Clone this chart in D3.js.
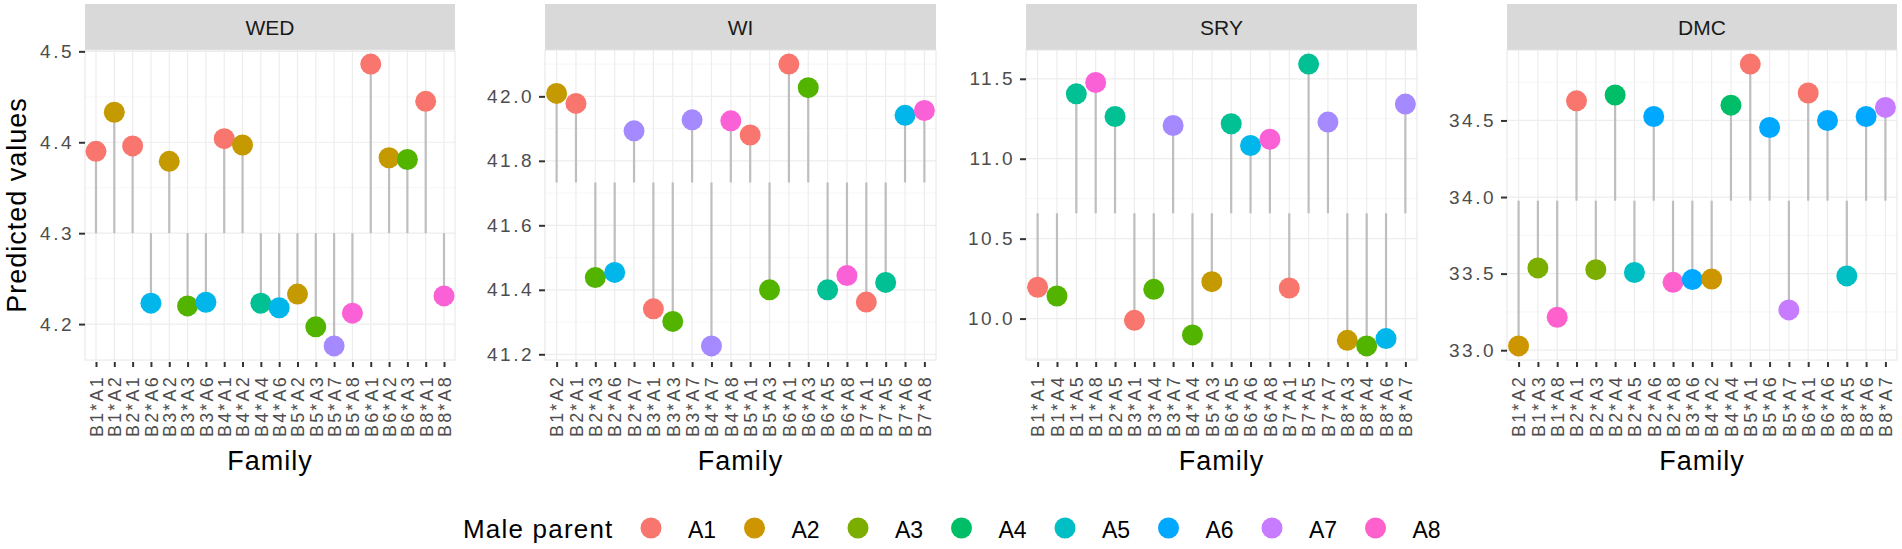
<!DOCTYPE html>
<html>
<head>
<meta charset="utf-8">
<script src="https://cdn.jsdelivr.net/npm/d3@7/dist/d3.min.js"></script>
<style>
  body { margin: 0; background: #fff; }
  svg text { font-family: "Liberation Sans", Arial, sans-serif; }
</style>
</head>
<body>
<svg id="chart" width="1902" height="549"></svg>
<script>
// panel names
var traits = ["WED", "WI", "SRY", "DMC"];

// WED
var wedFamily = ["B1*A1","B1*A2","B2*A1","B2*A6","B3*A2","B3*A3","B3*A6","B4*A1","B4*A2","B4*A4",
                 "B4*A6","B5*A2","B5*A3","B5*A7","B5*A8","B6*A1","B6*A2","B6*A3","B8*A1","B8*A8"];
var wedValue = [4.390,4.433,4.396,4.223,4.379,4.220,4.224,4.404,4.397,4.223,
                4.218,4.233,4.197,4.176,4.212,4.486,4.383,4.381,4.445,4.231];

// WI
var wiFamily = ["B1*A2","B2*A1","B2*A3","B2*A6","B2*A7","B3*A1","B3*A3","B3*A7","B4*A7","B4*A8",
                "B5*A1","B5*A3","B6*A1","B6*A3","B6*A5","B6*A8","B7*A1","B7*A5","B7*A6","B7*A8"];
var wiValue = [42.009,41.978,41.438,41.454,41.893,41.341,41.302,41.927,41.226,41.924,
               41.880,41.400,42.100,42.027,41.400,41.444,41.362,41.423,41.941,41.956];

// SRY
var sryFamily = ["B1*A1","B1*A4","B1*A5","B1*A8","B2*A5","B3*A1","B3*A4","B3*A7","B4*A4","B5*A3",
                 "B6*A5","B6*A6","B6*A8","B7*A1","B7*A5","B7*A7","B8*A3","B8*A4","B8*A6","B8*A7"];
var sryValue = [10.196,10.141,11.406,11.477,11.264,9.989,10.183,11.208,9.898,10.231,
                11.219,11.083,11.122,10.191,11.592,11.229,9.864,9.829,9.875,11.342];

// DMC
var dmcFamily = ["B1*A2","B1*A3","B1*A8","B2*A1","B2*A3","B2*A4","B2*A5","B2*A6","B2*A8","B3*A6",
                 "B4*A2","B4*A4","B5*A1","B5*A6","B5*A7","B6*A1","B6*A6","B8*A5","B8*A6","B8*A7"];
var dmcValue = [33.028,33.537,33.215,34.628,33.526,34.666,33.507,34.526,33.443,33.461,
                33.465,34.600,34.868,34.454,33.263,34.679,34.500,33.485,34.526,34.585];

// level the lollipop sticks grow from
var baseline = [4.300, 41.733, 10.659, 33.976];

// y breaks
var wedTicks = [4.2, 4.3, 4.4, 4.5];
var wiTicks = [41.2, 41.4, 41.6, 41.8, 42.0];
var sryTicks = [10.0, 10.5, 11.0, 11.5];
var dmcTicks = [33.0, 33.5, 34.0, 34.5];

var maleParents = ["A1","A2","A3","A4","A5","A6","A7","A8"];

var families = [wedFamily, wiFamily, sryFamily, dmcFamily];
var values = [wedValue, wiValue, sryValue, dmcValue];
var ticks = [wedTicks, wiTicks, sryTicks, dmcTicks];

// each panel was coloured on its own, by the levels it contains
var hue8 = ["#F8766D","#CD9600","#7CAE00","#00BE67","#00BFC4","#00A9FF","#C77CFF","#FF61CC"];
var hue7 = ["#F8766D","#C49A00","#53B400","#00C094","#00B6EB","#A58AFF","#FB61D7"];

var panelLeft = [85, 545, 1026, 1507];
var panelRight = [455, 936, 1417, 1897];
var plotTop = 50, plotBottom = 360, stripTop = 4;

var svg = d3.select("#chart");

function maleOf(f) { return f.split("*")[1]; }

for (var p = 0; p < traits.length; p++) {
    var fam = families[p], val = values[p];
    var data = fam.map(function(f, i) { return {family: f, value: val[i], male: maleOf(f)}; });

    var ext = d3.extent(val);
    var pad = (ext[1] - ext[0]) * 0.05;
    var y = d3.scaleLinear().domain([ext[0] - pad, ext[1] + pad]).range([plotBottom, plotTop]);
    var x = d3.scalePoint().domain(fam).range([panelLeft[p], panelRight[p]]).padding(0.6);

    var levels = maleParents.filter(function(m) { return data.some(function(d) { return d.male == m; }); });
    var color = d3.scaleOrdinal().domain(levels).range(levels.length == 8 ? hue8 : hue7);

    var g = svg.append("g");
    var w = panelRight[p] - panelLeft[p];

    // strip
    g.append("rect").attr("x", panelLeft[p]).attr("y", stripTop).attr("width", w).attr("height", plotTop - stripTop)
        .attr("fill", "#D9D9D9");
    g.append("text").attr("x", (panelLeft[p] + panelRight[p]) / 2).attr("y", 35)
        .attr("text-anchor", "middle").attr("font-size", 21).attr("fill", "#1A1A1A").text(traits[p]);

    // minor grid
    var tk = ticks[p];
    var step = tk[1] - tk[0];
    var minor = [];
    for (var k = -1; k < tk.length; k++) {
        var m = tk[0] + step * (k + 0.5);
        if (m > y.domain()[0] && m < y.domain()[1]) minor.push(m);
    }
    g.selectAll(".minor").data(minor).enter().append("line")
        .attr("x1", panelLeft[p]).attr("x2", panelRight[p])
        .attr("y1", function(d) { return y(d); }).attr("y2", function(d) { return y(d); })
        .attr("stroke", "#F4F4F4").attr("stroke-width", 0.8);
    g.selectAll(".majy").data(tk).enter().append("line")
        .attr("x1", panelLeft[p]).attr("x2", panelRight[p])
        .attr("y1", function(d) { return y(d); }).attr("y2", function(d) { return y(d); })
        .attr("stroke", "#EDEDED").attr("stroke-width", 1.2);
    g.selectAll(".majx").data(fam).enter().append("line")
        .attr("x1", function(d) { return x(d); }).attr("x2", function(d) { return x(d); })
        .attr("y1", plotTop).attr("y2", plotBottom)
        .attr("stroke", "#EDEDED").attr("stroke-width", 1.2);
    g.append("rect").attr("x", panelLeft[p]).attr("y", plotTop).attr("width", w).attr("height", plotBottom - plotTop)
        .attr("fill", "none").attr("stroke", "#E6E6E6").attr("stroke-width", 1);

    // sticks
    g.selectAll(".stick").data(data).enter().append("line")
        .attr("x1", function(d) { return x(d.family); }).attr("x2", function(d) { return x(d.family); })
        .attr("y1", y(baseline[p])).attr("y2", function(d) { return y(d.value); })
        .attr("stroke", "#BEBEBE").attr("stroke-width", 2.2);
    // heads
    g.selectAll(".dot").data(data).enter().append("circle")
        .attr("cx", function(d) { return x(d.family); }).attr("cy", function(d) { return y(d.value); })
        .attr("r", 10.5).attr("fill", function(d) { return color(d.male); });

    // y axis
    var yAxis = g.append("g").attr("transform", "translate(" + panelLeft[p] + ",0)")
        .call(d3.axisLeft(y).tickValues(tk).tickFormat(d3.format(".1f")).tickSize(6).tickPadding(5));
    yAxis.select(".domain").remove();
    yAxis.selectAll("line").attr("stroke", "#333").attr("stroke-width", 2);
    yAxis.selectAll("text").attr("font-size", 19).attr("fill", "#4D4D4D").attr("letter-spacing", 2.5)
        .attr("font-family", "Liberation Sans, Arial, sans-serif");

    // x axis
    var xAxis = g.append("g").attr("transform", "translate(0," + plotBottom + ")")
        .call(d3.axisBottom(x).tickSize(7).tickPadding(5));
    xAxis.select(".domain").remove();
    xAxis.selectAll("line").attr("stroke", "#333").attr("stroke-width", 2).attr("y1", 2);
    xAxis.selectAll("text").attr("font-size", 18).attr("fill", "#4D4D4D").attr("letter-spacing", 2.2)
        .attr("font-family", "Liberation Sans, Arial, sans-serif")
        .attr("transform", "rotate(-90)").attr("text-anchor", "end")
        .attr("x", -15).attr("y", 0).attr("dy", "0.35em");

    svg.append("text").attr("x", (panelLeft[p] + panelRight[p]) / 2).attr("y", 470)
        .attr("text-anchor", "middle").attr("font-size", 27).attr("letter-spacing", 1)
        .attr("fill", "#000").text("Family");
}

svg.append("text").attr("transform", "translate(26," + (plotTop + plotBottom) / 2 + ") rotate(-90)")
    .attr("text-anchor", "middle").attr("font-size", 27).attr("letter-spacing", 1)
    .attr("fill", "#000").text("Predicted values");

// legend
var legendColor = d3.scaleOrdinal().domain(maleParents).range(hue8);
var legend = svg.append("g");
legend.append("text").attr("x", 463).attr("y", 538).attr("font-size", 26).attr("letter-spacing", 1.2)
    .attr("fill", "#000").text("Male parent");
var item = legend.selectAll(".item").data(maleParents).enter().append("g")
    .attr("transform", function(d, i) { return "translate(" + (651 + i * 103.5) + ",528)"; });
item.append("circle").attr("r", 10.5).attr("fill", function(d) { return legendColor(d); });
item.append("text").attr("x", 37).attr("y", 10).attr("font-size", 23).attr("fill", "#000")
    .text(function(d) { return d; });
</script>
</body>
</html>
